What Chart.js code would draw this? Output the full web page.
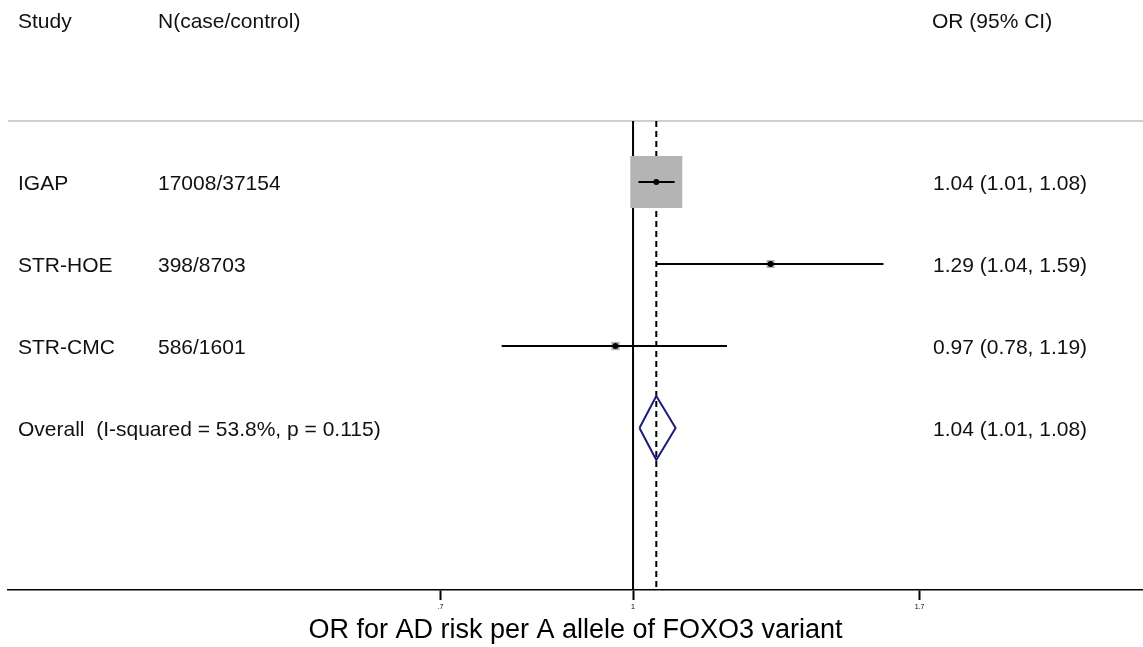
<!DOCTYPE html>
<html lang="en">
<head>
<meta charset="UTF-8">
<title>FOXO3 forest plot</title>
<script src="https://cdn.jsdelivr.net/npm/chart.js"></script>
<style>
  html, body { margin: 0; padding: 0; background: #fff; }
  canvas { display: block; }
</style>
</head>
<body>
<canvas id="forest" width="1143" height="647"></canvas>
<script>
// study rows
const studies = ["IGAP", "STR-HOE", "STR-CMC"];
const samples = ["17008/37154", "398/8703", "586/1601"];
const orValues = [1.044, 1.29, 0.968];
const ciLower = [1.01, 1.044, 0.784];
const ciUpper = [1.08, 1.59, 1.19];
const weights = [95.2, 2.3, 2.5];

// pooled estimate
const overallLabel = "Overall  (I-squared = 53.8%, p = 0.115)";
const overallOr = 1.044;
const overallLower = 1.012;
const overallUpper = 1.082;

const xTicks = [0.7, 1, 1.7];
const xTitle = "OR for AD risk per A allele of FOXO3 variant";

// scale limits
const X_MIN = 0.3143, X_MAX = 2.571;
const Y_MIN = 0.256, Y_MAX = 5.976;

const FONT = '"Liberation Sans", Arial, sans-serif';
const rows = studies.map((_, i) => i + 1);
const overallRow = studies.length + 1;
const fmt = v => v.toFixed(2);
const ciText = (o, l, u) => `${fmt(o)} (${fmt(l)}, ${fmt(u)})`;

const vline = (x, extra) => Object.assign({
    showLine: true, pointRadius: 0, borderColor: "#000", borderWidth: 2,
    data: [{ x: x, y: Y_MIN }, { x: x, y: Y_MAX }]
}, extra);

const datasets = [
    // header rule
    { showLine: true, pointRadius: 0, borderColor: "#cfcfcf", borderWidth: 2, clip: false, order: 9,
      data: [{ x: X_MIN, y: Y_MIN }, { x: X_MAX, y: Y_MIN }] },
    vline(1, { order: 6 }),
    vline(overallOr, { borderDash: [6, 4], order: 6 }),
    // weight boxes
    { pointStyle: "rect", order: 4,
      pointRadius: c => 5.33 * Math.sqrt(weights[c.dataIndex]) / Math.SQRT2,
      pointHoverRadius: c => 5.33 * Math.sqrt(weights[c.dataIndex]) / Math.SQRT2,
      backgroundColor: "#b4b4b4", borderColor: "#b4b4b4", borderWidth: 0,
      data: rows.map((r, i) => ({ x: orValues[i], y: r })) },
    // confidence intervals
    ...rows.map((r, i) => ({
        showLine: true, pointRadius: 0, borderColor: "#000", borderWidth: 2, order: 3,
        data: [{ x: ciLower[i], y: r }, { x: ciUpper[i], y: r }]
    })),
    // point estimates
    { pointStyle: "circle", pointRadius: 3, backgroundColor: "#000", borderColor: "#000",
      borderWidth: 0, order: 2,
      data: rows.map((r, i) => ({ x: orValues[i], y: r })) },
    // overall diamond
    { showLine: true, pointRadius: 0, borderColor: "#1b1b78", borderWidth: 2, order: 1,
      data: [
          { x: overallLower, y: overallRow },
          { x: overallOr, y: overallRow - 0.39 },
          { x: overallUpper, y: overallRow },
          { x: overallOr, y: overallRow + 0.39 },
          { x: overallLower, y: overallRow }
      ] }
];

const textColumns = {
    id: "textColumns",
    afterDraw(chart) {
        const ctx = chart.ctx;
        const y = chart.scales.y;
        ctx.save();
        ctx.font = "21px " + FONT;
        ctx.fillStyle = "#111";
        ctx.textBaseline = "alphabetic";
        ctx.textAlign = "left";
        ctx.fillText("Study", 18, 28);
        ctx.fillText("N(case/control)", 158, 28);
        ctx.fillText("OR (95% CI)", 932, 28);
        rows.forEach((r, i) => {
            const py = y.getPixelForValue(r) + 8;
            ctx.fillText(studies[i], 18, py);
            ctx.fillText(samples[i], 158, py);
            ctx.fillText(ciText(orValues[i], ciLower[i], ciUpper[i]), 933, py);
        });
        const oy = y.getPixelForValue(overallRow) + 8;
        ctx.fillText(overallLabel, 18, oy);
        ctx.fillText(ciText(overallOr, overallLower, overallUpper), 933, oy);
        ctx.restore();
    }
};

new Chart(document.getElementById("forest"), {
    type: "scatter",
    data: { datasets: datasets },
    options: {
        responsive: false,
        animation: false,
        devicePixelRatio: 1,
        layout: { autoPadding: false, padding: { left: 8, right: 0, top: 121, bottom: 0 } },
        plugins: { legend: { display: false }, tooltip: { enabled: false } },
        scales: {
            x: {
                type: "logarithmic",
                bounds: "data",
                min: X_MIN,
                max: X_MAX,
                afterBuildTicks: s => { s.ticks = xTicks.map(v => ({ value: v })); },
                afterFit: s => { s.height = 57; s.paddingLeft = 0; s.paddingRight = 0; },
                ticks: {
                    color: "#000",
                    font: { size: 7, family: FONT },
                    padding: 3,
                    maxRotation: 0,
                    autoSkip: false,
                    callback: v => String(v).replace(/^0\./, ".")
                },
                grid: { drawOnChartArea: false, color: "#000", tickLength: 10, tickWidth: 2 },
                border: { color: "#000", width: 1.5 },
                title: {
                    display: true, text: xTitle, color: "#000",
                    font: { size: 27, family: FONT }, padding: { top: 0, bottom: 0 }
                }
            },
            y: { type: "linear", reverse: true, min: Y_MIN, max: Y_MAX, display: false }
        }
    },
    plugins: [textColumns]
});
</script>
</body>
</html>
